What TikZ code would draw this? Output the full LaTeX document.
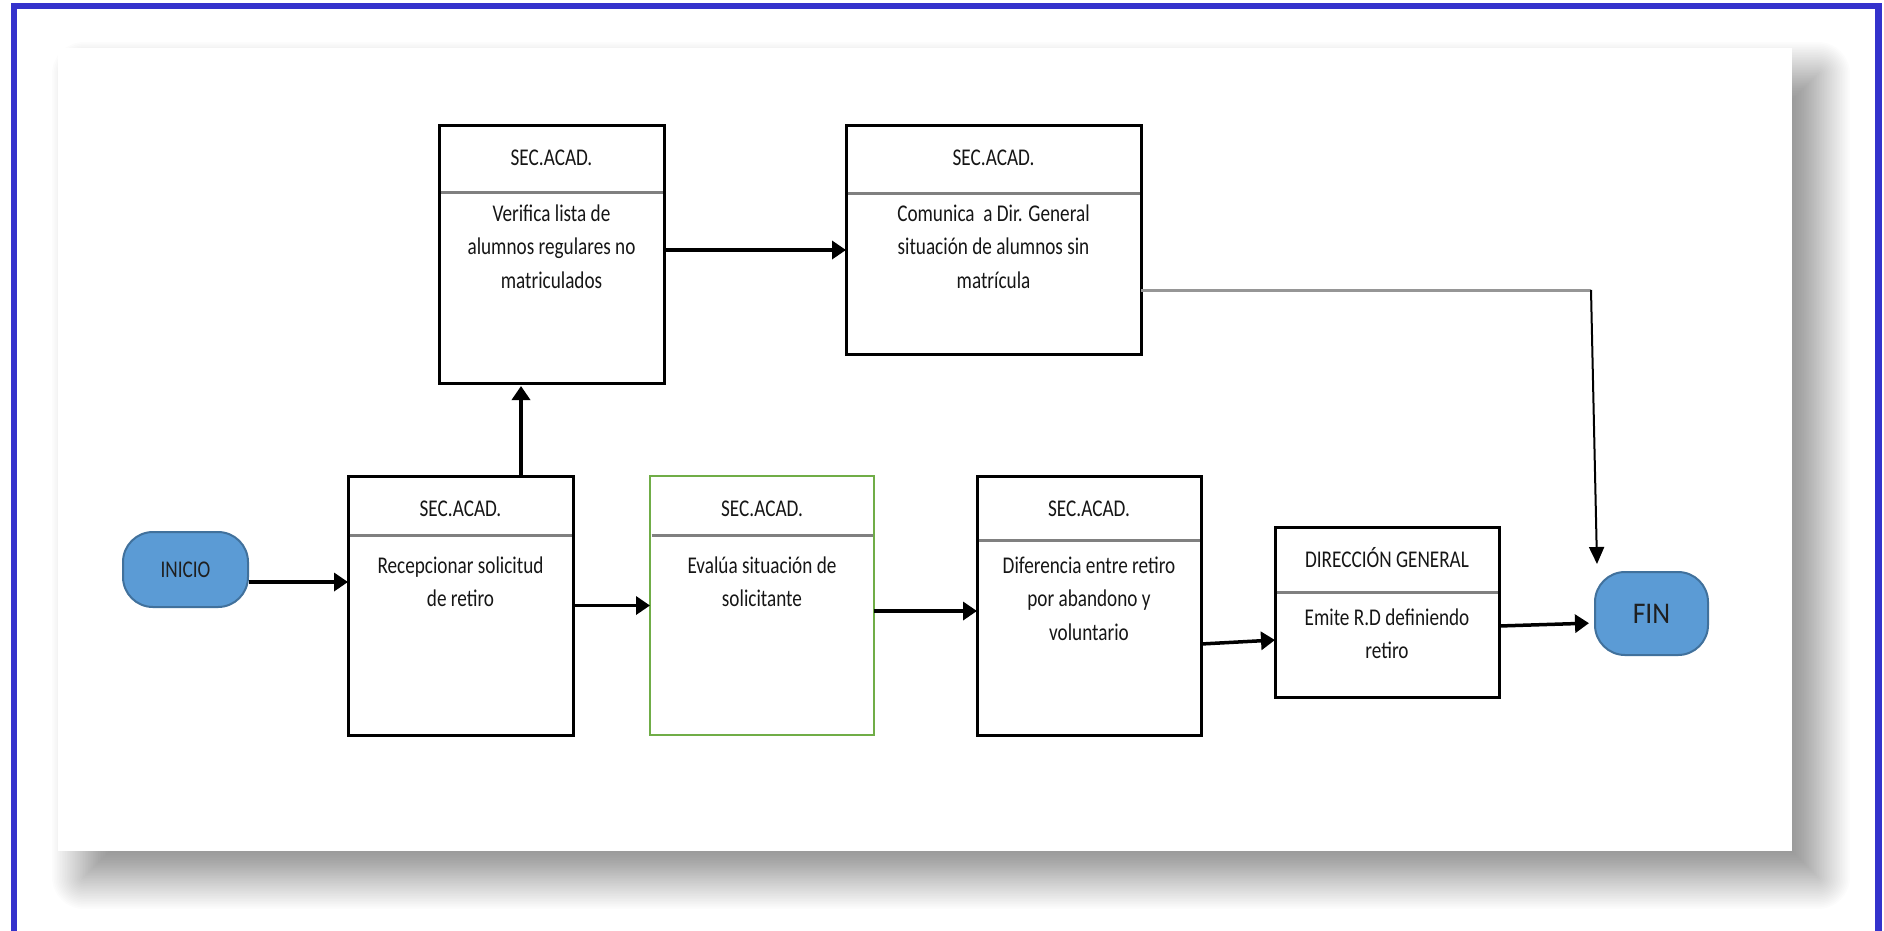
\documentclass[tikz,border=0pt]{standalone}
\usepackage{fontspec}
\setmainfont[FakeStretch=0.8]{Carlito}
\newfontfamily\endfont[FakeStretch=0.92]{Carlito}
\usetikzlibrary{arrows.meta}

\definecolor{framecol}{RGB}{52,50,204}
\definecolor{txt}{RGB}{22,22,22}
\definecolor{rulegray}{RGB}{128,128,128}
\definecolor{linkgray}{RGB}{150,150,150}
\definecolor{okgreen}{RGB}{112,173,71}
\definecolor{termfill}{RGB}{91,155,213}
\definecolor{termline}{RGB}{65,113,156}

\newcommand{\firstline}{\rule{0pt}{19pt}}

\begin{document}
\begin{tikzpicture}[x=1pt,y=-1pt,
  every node/.style={text=txt},
  box/.style={draw=black, line width=3pt, inner sep=0pt, outer sep=0pt},
  greenbox/.style={draw=okgreen, line width=2.5pt, inner sep=0pt, outer sep=0pt},
  hdr/.style={anchor=base, inner sep=0pt, font=\fontsize{24}{33.5}\selectfont},
  body/.style={anchor=north, inner sep=0pt, align=center, font=\fontsize{24}{33.5}\selectfont},
  divider/.style={draw=rulegray, line width=3pt, shorten <=1.5pt, shorten >=1.5pt},
  term/.style={draw=termline, fill=termfill, line width=2pt, rounded corners=30pt,
    inner sep=0pt, text=black!88},
  arr/.style={line width=3.5pt, -{Triangle[length=14pt,width=18pt]}},
  thinarr/.style={line width=2pt, -{Triangle[length=17pt,width=15pt]}},
  grayline/.style={draw=linkgray, line width=3pt}
]
% page and background
\useasboundingbox (0,0) rectangle (1884,930);
\fill[white] (0,0) rectangle (1884,930);

% soft drop shadow of the sheet: stacked translucent layers
\foreach \k in {0,...,39}{
  \pgfmathsetmacro{\e}{-32+64*\k/39}
  \pgfmathsetmacro{\rc}{max(\e,0.01)}
  \pgfmathsetmacro{\xa}{58+26-\e}
  \pgfmathsetmacro{\ya}{48+26-\e}
  \pgfmathsetmacro{\xb}{1792+26+\e}
  \pgfmathsetmacro{\yb}{851+26+\e}
  \fill[black, fill opacity=0.012, rounded corners=\rc pt] (\xa,\ya) rectangle (\xb,\yb);
}
% white sheet
\fill[white] (58,48) rectangle (1792,851);

% blue frame
\draw[framecol, line width=6.5pt] (14,935) -- (14,6) -- (1878.5,6) -- (1878.5,935);

% terminals
\node[term, minimum width=125pt, minimum height=75pt, font=\fontsize{24}{28}\selectfont]
  (ini) at (185.5,569.5) {INICIO};
\node[term, minimum width=113pt, minimum height=83pt, font=\endfont\fontsize{30}{34}\selectfont]
  (fin) at (1651.5,613.5) {FIN};

% process boxes
\node[box, minimum width=225pt, minimum height=259pt] (A) at (460.5,605.5) {};
\node[greenbox, minimum width=224pt, minimum height=259pt] (B) at (762,605.5) {};
\node[box, minimum width=224pt, minimum height=259pt] (C) at (1089,605.5) {};
\node[box, minimum width=224pt, minimum height=170pt] (D) at (1387,612) {};
\node[box, minimum width=225pt, minimum height=258pt] (V) at (551.5,254) {};
\node[box, minimum width=295pt, minimum height=229pt] (E) at (993.5,239.5) {};

% dividers between header and body
\draw[divider] ([yshift=-59pt]A.north west) -- ([yshift=-59pt]A.north east);
\draw[divider] ([yshift=-59pt]B.north west) -- ([yshift=-59pt]B.north east);
\draw[divider] ([yshift=-64pt]C.north west) -- ([yshift=-64pt]C.north east);
\draw[divider] ([yshift=-65pt]D.north west) -- ([yshift=-65pt]D.north east);
\draw[divider] ([yshift=-67pt]V.north west) -- ([yshift=-67pt]V.north east);
\draw[divider] ([yshift=-68pt]E.north west) -- ([yshift=-68pt]E.north east);

% headers
\node[hdr] (Ah) at ([yshift=-40pt]A.north) {SEC.ACAD.};
\node[hdr] (Bh) at ([yshift=-40pt]B.north) {SEC.ACAD.};
\node[hdr] (Ch) at ([yshift=-40pt]C.north) {SEC.ACAD.};
\node[hdr] (Dh) at ([yshift=-40pt]D.north) {DIRECCIÓN GENERAL};
\node[hdr] (Vh) at ([yshift=-40pt]V.north) {SEC.ACAD.};
\node[hdr] (Eh) at ([yshift=-40pt]E.north) {SEC.ACAD.};

% body texts
\node[body] (At) at ([yshift=-78pt]A.north) {\firstline Recepcionar solicitud\\de retiro};
\node[body] (Bt) at ([yshift=-78pt]B.north) {\firstline Evalúa situación de\\solicitante};
\node[body] (Ct) at ([yshift=-78pt]C.north) {\firstline Diferencia entre retiro\\por abandono y\\voluntario};
\node[body] (Dt) at ([yshift=-79pt]D.north) {\firstline Emite R.D definiendo\\retiro};
\node[body] (Vt) at ([yshift=-77pt]V.north) {\firstline Verifica lista de\\alumnos regulares no\\matriculados};
\node[body] (Et) at ([yshift=-77pt]E.north) {\firstline Comunica\ \ a Dir. General\\situación de alumnos sin\\matrícula};

% connectors
\draw[arr] ([yshift=-12.5pt]ini.east) -- ([yshift=23.5pt]A.west);
\draw[arr] (A.east) -- (B.west);
\draw[arr] ([yshift=-5.5pt]B.east) -- ([yshift=-5.5pt]C.west);
\draw[arr] ([yshift=-38.5pt]C.east) -- ([yshift=-28pt]D.west);
\draw[arr, shorten >=5pt] ([yshift=-14pt]D.east) -- ([yshift=-9.5pt]fin.west);
\draw[arr, shorten >=3pt] ([xshift=60.5pt]A.north) -- ([xshift=-30.5pt]V.south);
\draw[arr] ([yshift=4pt]V.east) -- ([yshift=-10.5pt]E.west);

\coordinate (bend) at (1591,290);
\draw[grayline] ([yshift=-50.5pt]E.east) -- (bend);
\draw[thinarr] (bend) -- ([xshift=-54.5pt,yshift=7pt]fin.north);
\end{tikzpicture}
\end{document}
